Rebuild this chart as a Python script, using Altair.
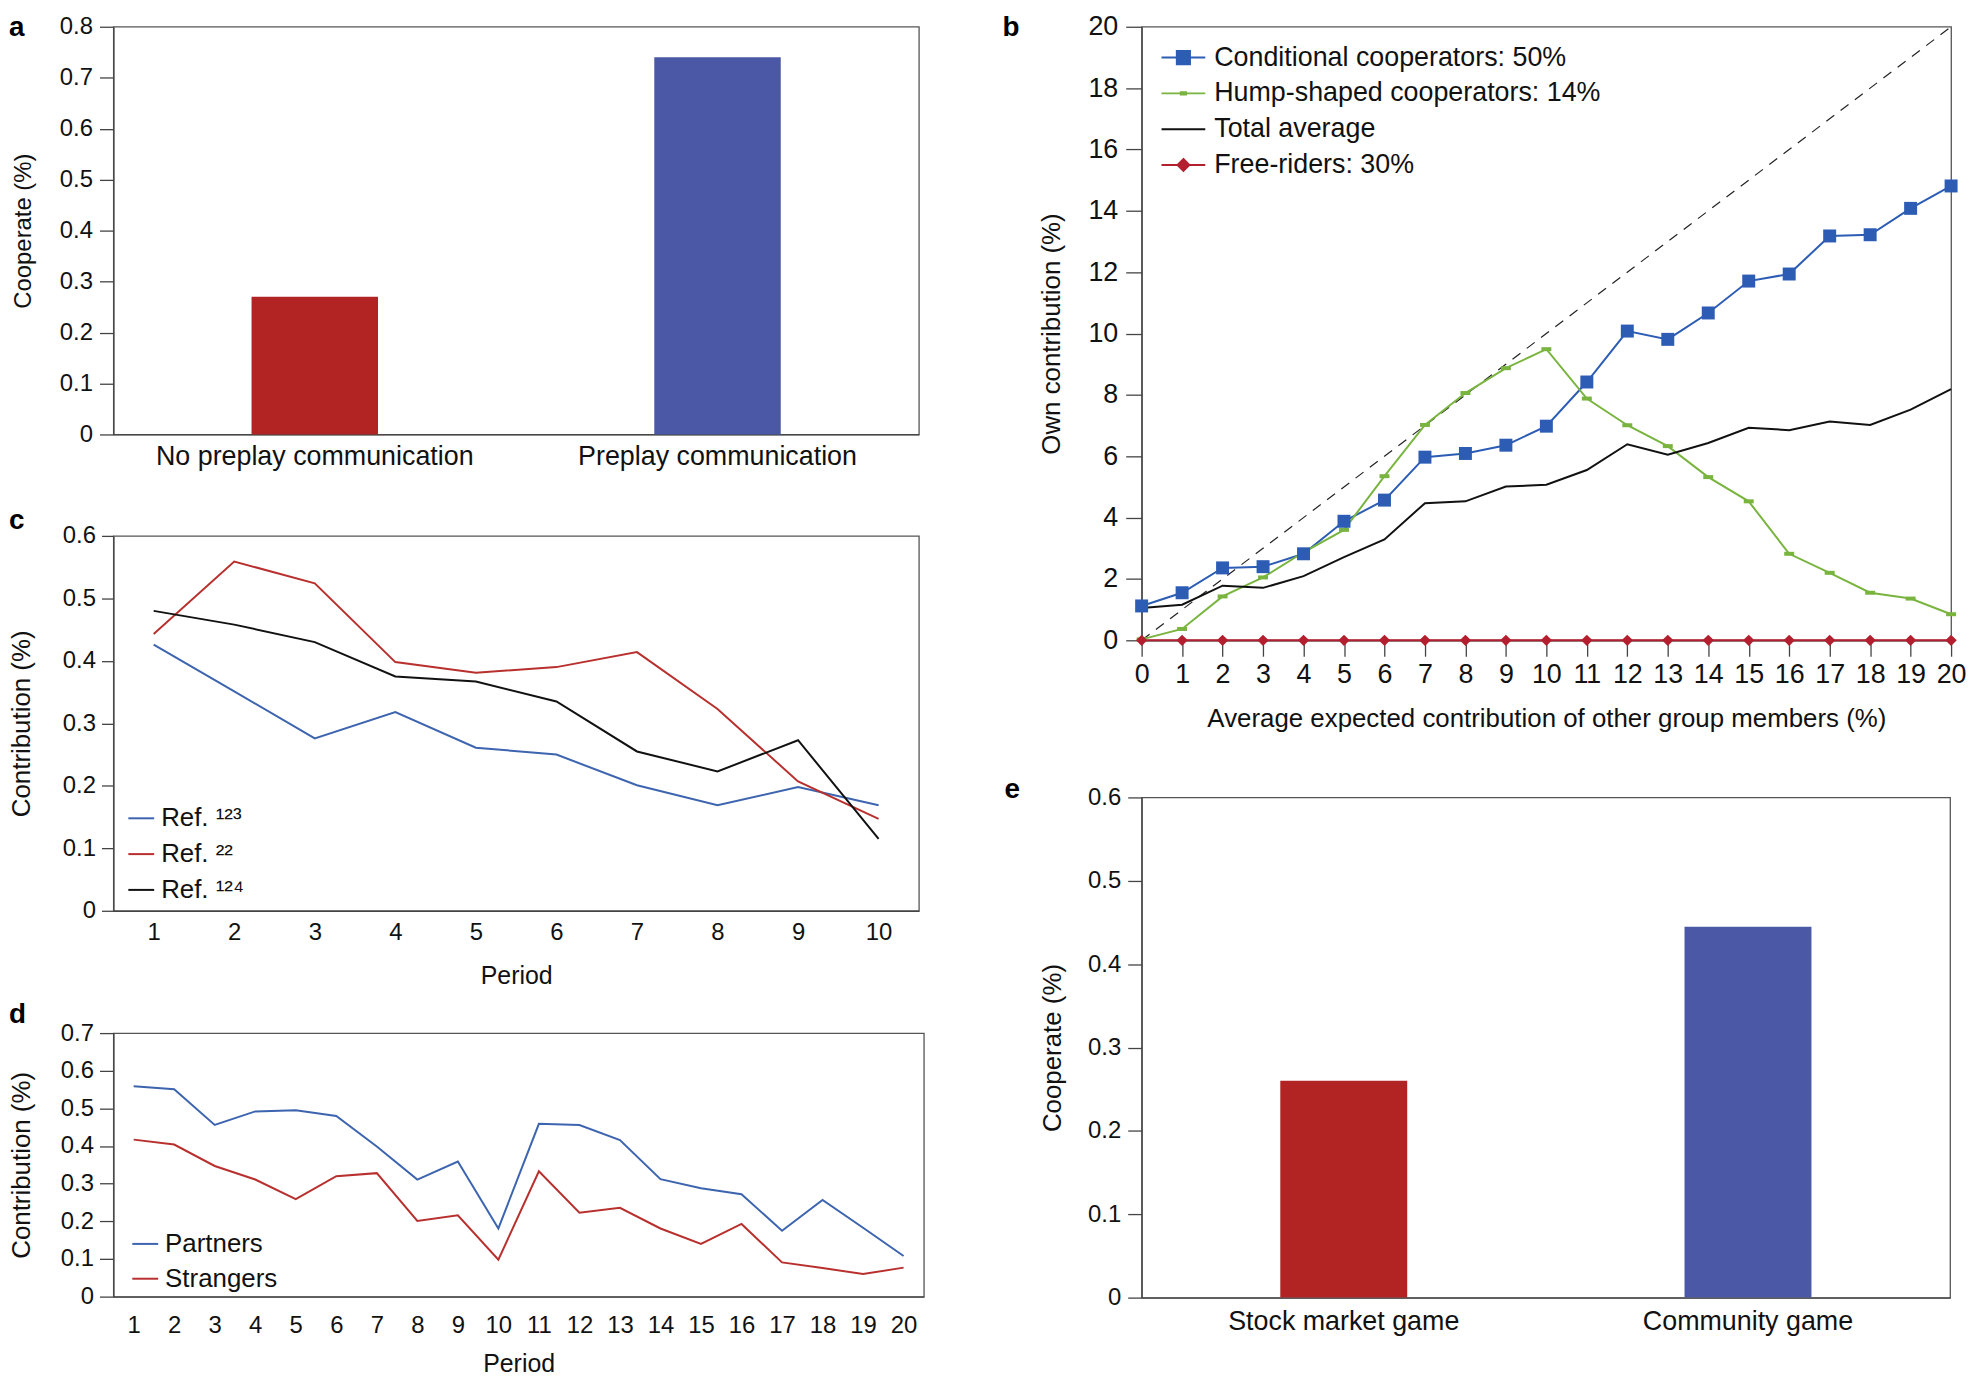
import altair as alt
import pandas as pd

FONT = "Liberation Sans"
AXIS_GREY = "#444444"
TEXT = "#111111"

# ---------------- panel a ----------------
a_categories = ["No preplay communication", "Preplay communication"]
a_values = [0.27, 0.74]
a_colors = ["#B22424", "#4A58A5"]
a_yticks = [0, 0.1, 0.2, 0.3, 0.4, 0.5, 0.6, 0.7, 0.8]

# ---------------- panel b ----------------
b_x = [0, 1, 2, 3, 4, 5, 6, 7, 8, 9, 10, 11, 12, 13, 14, 15, 16, 17, 18, 19, 20]
b_series = ["Conditional cooperators: 50%", "Hump-shaped cooperators: 14%",
            "Total average", "Free-riders: 30%"]
b_conditional = [1.12, 1.55, 2.36, 2.40, 2.82, 3.88, 4.57, 5.97, 6.09, 6.36, 6.98,
                 8.42, 10.08, 9.81, 10.67, 11.71, 11.94, 13.18, 13.22, 14.08, 14.81]
b_hump = [0.03, 0.37, 1.43, 2.05, 2.87, 3.60, 5.35, 7.02, 8.06, 8.87, 9.49,
          7.88, 7.01, 6.33, 5.32, 4.53, 2.82, 2.20, 1.55, 1.36, 0.85]
b_total = [1.05, 1.16, 1.78, 1.71, 2.09, 2.71, 3.29, 4.47, 4.53, 5.01, 5.07,
           5.55, 6.39, 6.05, 6.43, 6.93, 6.85, 7.13, 7.02, 7.52, 8.19]
b_free = [0, 0, 0, 0, 0, 0, 0, 0, 0, 0, 0, 0, 0, 0, 0, 0, 0, 0, 0, 0, 0]
b_colors = ["#2C5CB4", "#78B43E", "#111111", "#B31F2E"]
b_legend_symbols = [
    "M-1,0H1M-0.3,-0.3H0.3V0.3H-0.3Z",
    "M-1,0H1M-0.12,-0.05H0.12V0.05H-0.12Z",
    "M-1,0H1",
    "M-1,0H1M0,-0.27L0.27,0L0,0.27L-0.27,0Z",
]
b_xticks = [0, 1, 2, 3, 4, 5, 6, 7, 8, 9, 10, 11, 12, 13, 14, 15, 16, 17, 18, 19, 20]
b_yticks = [0, 2, 4, 6, 8, 10, 12, 14, 16, 18, 20]
b_diag_x = [0, 20]
b_diag_y = [0, 20]

# ---------------- panel c ----------------
c_periods = [1, 2, 3, 4, 5, 6, 7, 8, 9, 10]
c_series = ["Ref. \u00b9\u00b2\u00b3", "Ref. \u00b2\u00b2", "Ref. \u00b9\u00b2\u2074"]
c_ref123 = [0.426, 0.351, 0.276, 0.318, 0.261, 0.250, 0.201, 0.169, 0.198, 0.169]
c_ref22 = [0.443, 0.559, 0.524, 0.398, 0.381, 0.390, 0.414, 0.323, 0.207, 0.147]
c_ref124 = [0.480, 0.458, 0.430, 0.375, 0.367, 0.335, 0.255, 0.223, 0.273, 0.115]
c_colors = ["#3D64AF", "#B8302E", "#111111"]
c_yticks = [0, 0.1, 0.2, 0.3, 0.4, 0.5, 0.6]

# ---------------- panel d ----------------
d_periods = [1, 2, 3, 4, 5, 6, 7, 8, 9, 10, 11, 12, 13, 14, 15, 16, 17, 18, 19, 20]
d_series = ["Partners", "Strangers"]
d_partners = [0.559, 0.551, 0.456, 0.492, 0.495, 0.480, 0.399, 0.311, 0.359, 0.181,
              0.459, 0.456, 0.416, 0.312, 0.288, 0.272, 0.175, 0.257, 0.183, 0.108]
d_strangers = [0.417, 0.404, 0.347, 0.311, 0.259, 0.320, 0.328, 0.201, 0.216, 0.098,
               0.333, 0.223, 0.236, 0.181, 0.140, 0.193, 0.091, 0.076, 0.060, 0.077]
d_colors = ["#3D64AF", "#B8302E"]
d_yticks = [0, 0.1, 0.2, 0.3, 0.4, 0.5, 0.6, 0.7]

# ---------------- panel e ----------------
e_categories = ["Stock market game", "Community game"]
e_values = [0.26, 0.445]
e_colors = ["#B22424", "#4A58A5"]
e_yticks = [0, 0.1, 0.2, 0.3, 0.4, 0.5, 0.6]

INDEP = dict(color="independent", stroke="independent", shape="independent")


def panel_label(letter, x, y, baseline):
    return alt.Chart(pd.DataFrame({"label": [letter]})).mark_text(
        align="left", baseline=baseline, fontSize=28, fontWeight="bold", color="#000000"
    ).encode(x=alt.value(x), y=alt.value(y), text="label:N")


def spacer(h):
    return alt.Chart(pd.DataFrame({"s": [0]})).mark_point(opacity=0).encode(
        x=alt.value(0), y=alt.value(0)
    ).properties(width=10, height=h,
                 view=alt.ViewBackground(stroke="transparent", strokeWidth=0))


def bar_panel(categories, values, colors, yticks, ymax, title_size, letter, lx, ly, lbase,
              width, height, label_pad):
    df = pd.DataFrame({"condition": categories, "cooperate": values})
    bars = alt.Chart(df).mark_bar(width=alt.RelativeBandSize(0.314)).encode(
        x=alt.X("condition:N", sort=categories,
                scale=alt.Scale(paddingInner=0, paddingOuter=0),
                axis=alt.Axis(title=None, labelAngle=0, labelFontSize=27, ticks=False,
                              tickSize=0, labelPadding=label_pad, labelLimit=0)),
        y=alt.Y("cooperate:Q", scale=alt.Scale(domain=[0, ymax], nice=False),
                axis=alt.Axis(values=yticks, format="~g", title="Cooperate (%)",
                              titleFontSize=title_size, titleX=-90, titleBaseline="middle",
                              labelFontSize=24, tickSize=14, labelPadding=7)),
        color=alt.Color("condition:N", scale=alt.Scale(domain=categories, range=colors),
                        legend=None),
    )
    return alt.layer(bars, panel_label(letter, lx, ly, lbase)).properties(
        width=width, height=height)


# ---- panel a ----
a_chart = bar_panel(a_categories, a_values, a_colors, a_yticks, 0.8, 24, "a", -105, -13, "top",
                    810, 410, 9)

# ---- panel e ----
e_chart = bar_panel(e_categories, e_values, e_colors, e_yticks, 0.6, 26, "e", -138, 1,
                    "alphabetic", 813, 503, 11)

# ---- panel b ----
b_rows = []
for name, vals in zip(b_series, [b_conditional, b_hump, b_total, b_free]):
    for xv, yv in zip(b_x, vals):
        b_rows.append({"series": name, "expected": xv, "own": yv})
b_df = pd.DataFrame(b_rows)
b_diag_df = pd.DataFrame({"expected": b_diag_x, "own": b_diag_y})

xb = alt.X("expected:Q", scale=alt.Scale(domain=[0, 20], nice=False),
           axis=alt.Axis(values=b_xticks, format="d",
                         title="Average expected contribution of other group members (%)",
                         titleFontSize=26, titleY=79, titleBaseline="middle",
                         labelFontSize=27, tickSize=16, labelPadding=5))
yb = alt.Y("own:Q", scale=alt.Scale(domain=[0, 20], nice=False),
           axis=alt.Axis(values=b_yticks, format="d", title="Own contribution (%)",
                         titleFontSize=26, titleX=-91, titleBaseline="middle",
                         labelFontSize=27, tickSize=16, labelPadding=8))

b_diag = alt.Chart(b_diag_df).mark_line(strokeDash=[10, 8], strokeWidth=1.2,
                                        color="#222222").encode(x=xb, y=yb)
b_line_layers = [
    alt.Chart(b_df).transform_filter(alt.datum.series == name).mark_line(
        strokeWidth=2, color=col).encode(x=xb, y=yb)
    for name, col in zip(b_series, b_colors)
]
b_dashes = alt.Chart(b_df).transform_filter(alt.datum.series == b_series[1]).mark_point(
    shape="M-1,-0.4H1V0.4H-1Z", filled=True, size=100, opacity=1, color=b_colors[1]
).encode(x=xb, y=yb)
b_squares = alt.Chart(b_df).transform_filter(alt.datum.series == b_series[0]).mark_point(
    shape="square", filled=True, size=170, opacity=1, color=b_colors[0]
).encode(x=xb, y=yb)
b_diamonds = alt.Chart(b_df).transform_filter(alt.datum.series == b_series[3]).mark_point(
    shape="diamond", filled=True, size=130, opacity=1, color=b_colors[3]
).encode(x=xb, y=yb)

b_legend = alt.Legend(title=None, orient="none", legendX=19, legendY=8, symbolSize=1936,
                      symbolStrokeWidth=2, symbolOpacity=1, labelFontSize=27, labelLimit=0,
                      labelOffset=8, rowPadding=0, padding=0, labelColor=TEXT)
# key layer: no marks drawn (empty after filter); it only carries the line+marker legend
b_key = alt.Chart(b_df).transform_filter("false").mark_point(
    filled=True, opacity=1, strokeWidth=2
).encode(
    x=xb, y=yb,
    color=alt.Color("series:N", scale=alt.Scale(domain=b_series, range=b_colors),
                    legend=b_legend),
    stroke=alt.Stroke("series:N", scale=alt.Scale(domain=b_series, range=b_colors),
                      legend=b_legend),
    shape=alt.Shape("series:N", scale=alt.Scale(domain=b_series, range=b_legend_symbols),
                    legend=b_legend),
)
b_chart = alt.layer(b_diag, *b_line_layers, b_dashes, b_squares, b_diamonds, b_key,
                    panel_label("b", -140, -13, "top")).properties(width=814, height=617)

# ---- panel c ----
c_rows = []
for name, vals in zip(c_series, [c_ref123, c_ref22, c_ref124]):
    for p, v in zip(c_periods, vals):
        c_rows.append({"source": name, "period": p, "contribution": v})
c_df = pd.DataFrame(c_rows)
c_lines = alt.Chart(c_df).mark_line(strokeWidth=2).encode(
    x=alt.X("period:Q", scale=alt.Scale(domain=[0.5, 10.5], nice=False),
            axis=alt.Axis(values=c_periods, format="d", title="Period", titleFontSize=25,
                          titleY=65, titleBaseline="middle", labelFontSize=24, ticks=False,
                          tickSize=0, labelPadding=10)),
    y=alt.Y("contribution:Q", scale=alt.Scale(domain=[0, 0.6], nice=False),
            axis=alt.Axis(values=c_yticks, format="~g", title="Contribution (%)",
                          titleFontSize=26, titleX=-92, titleBaseline="middle",
                          labelFontSize=24, tickSize=12, labelPadding=6)),
    color=alt.Color("source:N", scale=alt.Scale(domain=c_series, range=c_colors),
                    legend=alt.Legend(title=None, orient="none", legendX=14, legendY=270,
                                      symbolType="stroke", symbolSize=676,
                                      symbolStrokeWidth=2, labelFontSize=26, labelOffset=6,
                                      rowPadding=9, padding=0, labelLimit=0,
                                      labelColor=TEXT)),
)
c_chart = alt.layer(c_lines, panel_label("c", -105, -7, "alphabetic")).properties(
    width=810, height=377)

# ---- panel d ----
d_rows = []
for name, vals in zip(d_series, [d_partners, d_strangers]):
    for p, v in zip(d_periods, vals):
        d_rows.append({"group": name, "period": p, "contribution": v})
d_df = pd.DataFrame(d_rows)
d_lines = alt.Chart(d_df).mark_line(strokeWidth=2).encode(
    x=alt.X("period:Q", scale=alt.Scale(domain=[0.5, 20.5], nice=False),
            axis=alt.Axis(values=d_periods, format="d", title="Period", titleFontSize=25,
                          titleY=67, titleBaseline="middle", labelFontSize=24, ticks=False,
                          tickSize=0, labelPadding=17)),
    y=alt.Y("contribution:Q", scale=alt.Scale(domain=[0, 0.7], nice=False),
            axis=alt.Axis(values=d_yticks, format="~g", title="Contribution (%)",
                          titleFontSize=26, titleX=-92, titleBaseline="middle",
                          labelFontSize=24, tickSize=14, labelPadding=6)),
    color=alt.Color("group:N", scale=alt.Scale(domain=d_series, range=d_colors),
                    legend=alt.Legend(title=None, orient="none", legendX=18, legendY=198,
                                      symbolType="stroke", symbolSize=676,
                                      symbolStrokeWidth=2, labelFontSize=26, labelOffset=6,
                                      rowPadding=8, padding=0, labelLimit=0,
                                      labelColor=TEXT)),
)
d_chart = alt.layer(d_lines, panel_label("d", -105, -10, "alphabetic")).properties(
    width=815, height=265)

left_col = alt.vconcat(a_chart, spacer(102), c_chart, spacer(123), d_chart,
                       spacing=0, bounds="flush").resolve_scale(**INDEP).resolve_legend(**INDEP)
right_col = alt.vconcat(b_chart, e_chart, spacing=158,
                        bounds="flush").resolve_scale(**INDEP).resolve_legend(**INDEP)

chart = alt.hconcat(left_col, right_col, spacing=77).resolve_scale(**INDEP).resolve_legend(
    **INDEP
).properties(
    padding=0
).configure(font=FONT).configure_view(
    stroke="#555555", strokeWidth=1.3
).configure_axis(
    grid=False, domainColor=AXIS_GREY, tickColor=AXIS_GREY, domainWidth=1.3, tickWidth=1.3,
    labelColor=TEXT, titleColor=TEXT, titleFontWeight="normal", labelFlush=False,
    labelOverlap=False
)

chart.save("out.html", embed_options={"renderer": "svg", "actions": False})
